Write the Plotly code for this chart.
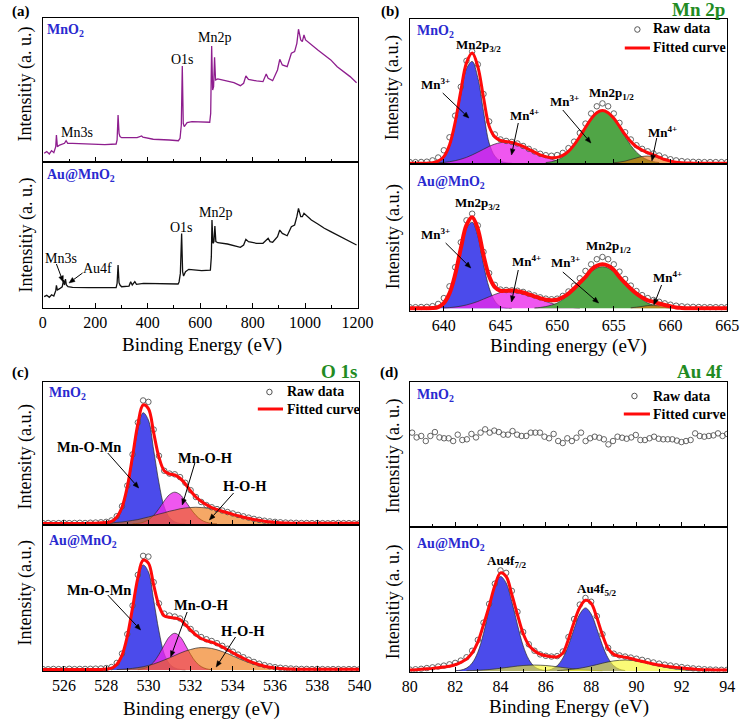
import math
import numpy as np
import plotly.graph_objects as go

W, H = 756, 721
SERIF = "Liberation Serif"

# ======================= DATA =======================
# ---- (a) XPS survey spectra ----
SURVEY_MNO2_E = [4.9, 14.8, 24.6, 33.2, 41.8, 49.2, 51.7, 55.4, 64.0, 82.5, 88.6, 94.8, 113.2, 174.8, 236.3,
                 279.4, 283.1, 286.8, 290.5, 294.2, 300.3, 359.4, 376.6, 381.5, 420.9, 482.5, 516.9, 523.1,
                 528.0, 531.7, 535.4, 539.1, 550.2, 568.6, 605.5, 636.3, 640.0, 643.7, 647.4, 651.1, 654.8,
                 658.5, 667.1, 704.0, 728.6, 753.2, 765.6, 774.2, 784.0, 814.8, 839.4, 851.7, 859.1, 876.3,
                 894.8, 903.4, 913.2, 931.7, 947.7, 960.0, 968.6, 974.8, 983.4, 989.5, 995.7, 1001.9, 1024.0,
                 1048.6, 1073.3, 1097.9, 1122.5, 1147.1, 1171.7, 1196.3]
SURVEY_MNO2_I = [0.0625, 0.074, 0.058, 0.081, 0.067, 0.109, 0.190, 0.109, 0.120, 0.132, 0.150, 0.132, 0.132,
                 0.127, 0.123, 0.127, 0.155, 0.329, 0.201, 0.178, 0.171, 0.171, 0.183, 0.174, 0.160, 0.155,
                 0.150, 0.167, 0.259, 0.669, 0.271, 0.248, 0.275, 0.282, 0.278, 0.278, 0.340, 0.808, 0.502,
                 0.525, 0.729, 0.572, 0.579, 0.565, 0.553, 0.532, 0.549, 0.600, 0.576, 0.565, 0.560, 0.613,
                 0.583, 0.567, 0.641, 0.715, 0.676, 0.664, 0.757, 0.769, 0.826, 0.924, 0.850, 0.838, 0.884,
                 0.850, 0.815, 0.780, 0.745, 0.711, 0.664, 0.630, 0.595, 0.553]
SURVEY_AU_E = [4.9, 14.8, 24.6, 33.2, 41.8, 49.2, 51.7, 55.4, 64.0, 73.8, 78.8, 82.5, 86.2, 89.8, 96.0, 113.2,
               174.8, 236.3, 279.4, 283.1, 286.8, 290.5, 294.2, 300.3, 328.6, 334.8, 340.9, 350.8, 356.9,
               384.0, 433.2, 482.5, 515.7, 519.4, 524.3, 529.2, 532.9, 536.6, 544.0, 556.3, 605.5, 638.8,
               642.5, 644.9, 648.6, 652.3, 656.0, 659.7, 667.1, 704.0, 728.6, 753.2, 765.6, 774.2, 784.0,
               814.8, 839.4, 851.7, 859.1, 866.5, 876.3, 894.8, 903.4, 913.2, 931.7, 947.7, 960.0, 968.6,
               974.8, 983.4, 989.5, 995.7, 1001.9, 1024.0, 1048.6, 1073.3, 1097.9, 1122.5, 1147.1, 1171.7,
               1196.3]
SURVEY_AU_I = [0.076, 0.085, 0.071, 0.089, 0.080, 0.117, 0.154, 0.122, 0.131, 0.144, 0.190, 0.156, 0.197,
               0.156, 0.144, 0.140, 0.138, 0.135, 0.138, 0.167, 0.294, 0.172, 0.156, 0.144, 0.149, 0.179,
               0.156, 0.179, 0.161, 0.167, 0.167, 0.163, 0.163, 0.177, 0.236, 0.511, 0.248, 0.218, 0.248,
               0.264, 0.255, 0.259, 0.351, 0.603, 0.443, 0.454, 0.562, 0.454, 0.447, 0.438, 0.429, 0.415,
               0.431, 0.470, 0.454, 0.443, 0.443, 0.466, 0.477, 0.454, 0.450, 0.489, 0.534, 0.511, 0.495,
               0.557, 0.569, 0.626, 0.683, 0.626, 0.626, 0.649, 0.638, 0.603, 0.576, 0.546, 0.523, 0.500,
               0.477, 0.454, 0.431]

# ---- (b) Mn 2p ----
MN2P_STEP = 0.5
MN2P_E = np.round(np.arange(637.0, 665.0 + 1e-9, MN2P_STEP), 3)
MN2P_RAW_MNO2 = [0.008, 0.008, 0.009, 0.011, 0.02, 0.04, 0.09, 0.18, 0.33, 0.53, 0.71, 0.775, 0.685, 0.48,
                 0.29, 0.2, 0.165, 0.155, 0.148, 0.137, 0.12, 0.10, 0.082, 0.066, 0.056, 0.052, 0.057, 0.072,
                 0.105, 0.15, 0.21, 0.275, 0.345, 0.395, 0.415, 0.395, 0.345, 0.28, 0.215, 0.165, 0.125, 0.10,
                 0.083, 0.068, 0.054, 0.04, 0.028, 0.02, 0.015, 0.012, 0.01, 0.009, 0.008, 0.008, 0.008, 0.008,
                 0.008]
MN2P_FIT_MNO2 = [0.0, 0.0, 0.0, 0.001, 0.004, 0.015, 0.046, 0.127, 0.284, 0.502, 0.696, 0.764, 0.670, 0.457,
                 0.257, 0.183, 0.158, 0.151, 0.144, 0.133, 0.117, 0.097, 0.077, 0.058, 0.046, 0.039, 0.041,
                 0.055, 0.083, 0.128, 0.185, 0.248, 0.308, 0.351, 0.366, 0.351, 0.312, 0.256, 0.198, 0.150,
                 0.114, 0.091, 0.073, 0.058, 0.042, 0.026, 0.015, 0.008, 0.004, 0.002, 0.001, 0.0, 0.0, 0.0,
                 0.0, 0.0, 0.0]
MN2P_RAW_AU = [0.008, 0.008, 0.009, 0.01, 0.015, 0.03, 0.07, 0.15, 0.28, 0.45, 0.6, 0.645, 0.565, 0.385, 0.24,
               0.16, 0.128, 0.125, 0.123, 0.12, 0.112, 0.1, 0.088, 0.075, 0.066, 0.062, 0.066, 0.085, 0.115,
               0.155, 0.205, 0.255, 0.3, 0.335, 0.35, 0.335, 0.3, 0.25, 0.2, 0.155, 0.118, 0.09, 0.07, 0.057,
               0.045, 0.034, 0.025, 0.018, 0.014, 0.011, 0.01, 0.009, 0.008, 0.008, 0.008, 0.008, 0.008]
MN2P_FIT_AU = [0.0, 0.0, 0.0, 0.001, 0.002, 0.009, 0.036, 0.102, 0.230, 0.409, 0.568, 0.621, 0.540, 0.363,
               0.219, 0.145, 0.120, 0.120, 0.121, 0.117, 0.108, 0.095, 0.082, 0.069, 0.059, 0.056, 0.059,
               0.076, 0.101, 0.135, 0.175, 0.214, 0.262, 0.290, 0.300, 0.290, 0.262, 0.214, 0.172, 0.134,
               0.100, 0.074, 0.055, 0.044, 0.033, 0.023, 0.014, 0.006, 0.003, 0.001, 0.0, 0.0, 0.0, 0.0, 0.0,
               0.0, 0.0]
# components: start energy + values at MN2P_STEP spacing
MN2P_MNO2_MN3A_START = 638.5
MN2P_MNO2_MN3A = [0.001, 0.002, 0.011, 0.040, 0.116, 0.266, 0.474, 0.655, 0.706, 0.593, 0.36, 0.14, 0.05,
                  0.015, 0.004, 0.001]
MN2P_MNO2_MN4A_START = 639.0
MN2P_MNO2_MN4A = [0.002, 0.004, 0.006, 0.011, 0.018, 0.028, 0.041, 0.058, 0.077, 0.097, 0.117, 0.133, 0.143,
                  0.147, 0.143, 0.133, 0.117, 0.097, 0.077, 0.058, 0.041, 0.028, 0.018, 0.011, 0.006, 0.004,
                  0.002]
MN2P_MNO2_MN3B_START = 649.0
MN2P_MNO2_MN3B = [0.005, 0.011, 0.023, 0.044, 0.077, 0.124, 0.183, 0.248, 0.308, 0.351, 0.366, 0.351, 0.308,
                  0.248, 0.183, 0.124, 0.077, 0.044, 0.023, 0.011, 0.005]
MN2P_MNO2_MN4B_START = 655.0
MN2P_MNO2_MN4B = [0.004, 0.008, 0.015, 0.026, 0.037, 0.047, 0.050, 0.047, 0.037, 0.026, 0.015, 0.008, 0.004]
MN2P_AU_MN3A_START = 638.5
MN2P_AU_MN3A = [0.001, 0.002, 0.009, 0.033, 0.097, 0.221, 0.394, 0.545, 0.587, 0.493, 0.30, 0.14, 0.05, 0.012,
                0.003, 0.001]
MN2P_AU_MN4A_START = 640.0
MN2P_AU_MN4A = [0.003, 0.005, 0.009, 0.015, 0.023, 0.034, 0.047, 0.063, 0.079, 0.095, 0.108, 0.117, 0.12,
                0.117, 0.108, 0.095, 0.079, 0.063, 0.047, 0.034, 0.023, 0.015, 0.009, 0.005, 0.003]
MN2P_AU_MN3B_START = 648.0
MN2P_AU_MN3B = [0.003, 0.006, 0.012, 0.022, 0.036, 0.061, 0.092, 0.130, 0.172, 0.214, 0.250, 0.275, 0.284,
                0.275, 0.250, 0.214, 0.172, 0.130, 0.092, 0.061, 0.036, 0.022, 0.012, 0.006, 0.003]
MN2P_AU_MN4B_START = 656.5
MN2P_AU_MN4B = [0.004, 0.008, 0.013, 0.019, 0.022, 0.021, 0.017, 0.011, 0.006, 0.003]

# ---- (c) O 1s ----
O1S_STEP = 0.25
O1S_E = np.round(np.arange(525.0, 540.0 + 1e-9, O1S_STEP), 3)
O1S_RAW_MNO2 = [0.006, 0.007, 0.005, 0.006, 0.008, 0.006, 0.007, 0.008, 0.007, 0.009, 0.010, 0.012, 0.015,
                0.025, 0.055, 0.125, 0.27, 0.49, 0.715, 0.87, 0.86, 0.665, 0.48, 0.375, 0.355, 0.35, 0.33,
                0.29, 0.238, 0.19, 0.155, 0.133, 0.118, 0.105, 0.095, 0.084, 0.074, 0.064, 0.054, 0.045,
                0.036, 0.029, 0.023, 0.018, 0.015, 0.012, 0.010, 0.009, 0.008, 0.007, 0.007, 0.006, 0.007,
                0.006, 0.005, 0.006, 0.007, 0.006, 0.006, 0.005, 0.006]
O1S_FIT_MNO2 = [0.004, 0.004, 0.004, 0.004, 0.004, 0.004, 0.004, 0.004, 0.004,
                0.005, 0.006, 0.008, 0.010, 0.018, 0.048, 0.118, 0.262, 0.478, 0.703, 0.838, 0.812, 0.642,
                0.47, 0.375, 0.352, 0.345, 0.322, 0.282, 0.232, 0.19, 0.16, 0.135, 0.116, 0.102, 0.09, 0.079,
                0.068, 0.058, 0.048, 0.04, 0.032, 0.026, 0.02, 0.015, 0.012, 0.009, 0.007, 0.006,
                0.005, 0.005, 0.005, 0.005, 0.005, 0.005, 0.005, 0.005, 0.005, 0.005, 0.005, 0.005, 0.005]
O1S_RAW_AU = [0.006, 0.005, 0.007, 0.006, 0.006, 0.008, 0.006, 0.007, 0.007, 0.008, 0.009, 0.010,
              0.013, 0.02, 0.048, 0.112, 0.245, 0.44, 0.65, 0.78, 0.775, 0.6, 0.455, 0.385, 0.372, 0.365,
              0.352, 0.318, 0.28, 0.25, 0.225, 0.21, 0.198, 0.183, 0.165, 0.145, 0.125, 0.105, 0.087, 0.07,
              0.055, 0.043, 0.033, 0.025, 0.019, 0.015, 0.012, 0.010,
              0.008, 0.007, 0.007, 0.006, 0.007, 0.006, 0.005, 0.006, 0.006, 0.005, 0.006, 0.006, 0.005]
O1S_FIT_AU = [0.004, 0.004, 0.004, 0.004, 0.004, 0.004, 0.004, 0.004, 0.004, 0.004, 0.004, 0.004,
              0.006, 0.012, 0.038, 0.10, 0.23, 0.425, 0.63, 0.75, 0.73, 0.58, 0.44, 0.37, 0.36, 0.355, 0.345,
              0.31, 0.272, 0.24, 0.215, 0.2, 0.19, 0.175, 0.158, 0.138, 0.118, 0.098, 0.08, 0.063, 0.048,
              0.036, 0.026, 0.019, 0.014, 0.010, 0.008, 0.006,
              0.005, 0.005, 0.005, 0.005, 0.005, 0.005, 0.005, 0.005, 0.005, 0.005, 0.005, 0.005, 0.005]
O1S_MNO2_MNOMN_START = 527.75
O1S_MNO2_MNOMN = [0.001, 0.002, 0.009, 0.035, 0.102, 0.241, 0.451, 0.667, 0.784, 0.732, 0.52, 0.29, 0.12,
                  0.045, 0.015, 0.004, 0.001]
O1S_MNO2_MNOH_START = 529.25
O1S_MNO2_MNOH = [0.001, 0.004, 0.012, 0.029, 0.061, 0.108, 0.162, 0.207, 0.224, 0.207, 0.162, 0.108, 0.061,
                 0.029, 0.012, 0.004, 0.001]
O1S_MNO2_HOH_START = 527.25
O1S_MNO2_HOH = [0.001, 0.002, 0.004, 0.005, 0.007, 0.011, 0.014, 0.019, 0.025, 0.031, 0.040, 0.049, 0.059,
                0.070, 0.079, 0.090, 0.098, 0.107, 0.113, 0.116, 0.118, 0.116, 0.113, 0.107, 0.098, 0.090,
                0.079, 0.070, 0.059, 0.049, 0.040, 0.031, 0.025, 0.019, 0.014, 0.011, 0.007, 0.005, 0.004,
                0.002, 0.001]
O1S_AU_MNOMN_START = 527.75
O1S_AU_MNOMN = [0.001, 0.002, 0.008, 0.032, 0.093, 0.221, 0.413, 0.611, 0.718, 0.671, 0.476, 0.266, 0.11,
                0.041, 0.014, 0.004, 0.001]
O1S_AU_MNOH_START = 529.5
O1S_AU_MNOH = [0.002, 0.008, 0.023, 0.054, 0.106, 0.171, 0.228, 0.251, 0.228, 0.171, 0.106, 0.054, 0.023,
               0.008, 0.002]
O1S_AU_HOH_START = 528.5
O1S_AU_HOH = [0.003, 0.0045, 0.007, 0.011, 0.016, 0.022, 0.031, 0.041, 0.054, 0.068, 0.083, 0.099, 0.115,
              0.129, 0.140, 0.149, 0.153, 0.152, 0.147, 0.138, 0.126, 0.112, 0.096, 0.080, 0.065, 0.051,
              0.039, 0.029, 0.021, 0.014, 0.010, 0.006, 0.004, 0.003, 0.002]

# ---- (d) Au 4f ----
AU4F_RAW_MNO2_E = np.linspace(80.1, 94.0, 70)
AU4F_RAW_MNO2 = [0.650, 0.617, 0.627, 0.592, 0.627, 0.654, 0.617, 0.611, 0.611, 0.592, 0.636, 0.599, 0.604,
                 0.641, 0.617, 0.650, 0.673, 0.650, 0.664, 0.654, 0.636, 0.636, 0.661, 0.636, 0.627, 0.627,
                 0.650, 0.650, 0.650, 0.622, 0.611, 0.641, 0.592, 0.578, 0.611, 0.592, 0.615, 0.650, 0.592,
                 0.611, 0.622, 0.615, 0.604, 0.569, 0.592, 0.622, 0.615, 0.608, 0.617, 0.634, 0.599, 0.599,
                 0.611, 0.622, 0.608, 0.604, 0.604, 0.604, 0.595, 0.585, 0.592, 0.599, 0.645, 0.627, 0.622,
                 0.627, 0.631, 0.645, 0.627, 0.641]
AU4F_STEP = 0.25
AU4F_E = np.round(np.arange(80.0, 94.0 + 1e-9, AU4F_STEP), 3)
AU4F_RAW_AU = [0.010, 0.012, 0.015, 0.020, 0.025, 0.031, 0.037, 0.046, 0.056, 0.072, 0.095, 0.14, 0.215,
               0.335, 0.465, 0.605, 0.697, 0.68, 0.555, 0.41, 0.27, 0.185, 0.14, 0.115, 0.105, 0.10, 0.103,
               0.135, 0.235, 0.36, 0.46, 0.506, 0.48, 0.38, 0.255, 0.16, 0.12, 0.108, 0.10, 0.093, 0.085,
               0.077, 0.068, 0.059, 0.051, 0.044, 0.038, 0.032, 0.027, 0.022, 0.018, 0.015, 0.012, 0.010,
               0.009, 0.008, 0.008]
AU4F_FIT_AU = [0.007, 0.009, 0.012, 0.015, 0.018, 0.022, 0.027, 0.033, 0.043, 0.060, 0.082, 0.125, 0.20,
               0.32, 0.45, 0.59, 0.68, 0.655, 0.53, 0.39, 0.26, 0.18, 0.14, 0.117, 0.105, 0.099, 0.098, 0.124,
               0.22, 0.34, 0.44, 0.49, 0.47, 0.37, 0.25, 0.155, 0.115, 0.102, 0.095, 0.086, 0.076, 0.067,
               0.058, 0.048, 0.041, 0.035, 0.030, 0.025, 0.021, 0.017, 0.014, 0.011, 0.009, 0.008, 0.007,
               0.007, 0.007]
AU4F_72_START = 82.0
AU4F_72 = [0.002, 0.006, 0.02, 0.055, 0.13, 0.26, 0.43, 0.585, 0.655, 0.61, 0.48, 0.32, 0.175, 0.08, 0.03,
           0.01, 0.003]
AU4F_52_START = 86.0
AU4F_52 = [0.003, 0.012, 0.036, 0.089, 0.178, 0.293, 0.395, 0.437, 0.395, 0.293, 0.178, 0.089, 0.036, 0.012,
           0.003]
AU4F_SAT1_START = 82.5
AU4F_SAT1 = [0.002, 0.003, 0.005, 0.007, 0.010, 0.014, 0.019, 0.024, 0.029, 0.034, 0.038, 0.040, 0.041, 0.040,
             0.038, 0.034, 0.029, 0.024, 0.019, 0.014, 0.010, 0.007, 0.005, 0.003, 0.002]
AU4F_SAT2_START = 86.5
AU4F_SAT2 = [0.003, 0.005, 0.009, 0.013, 0.019, 0.026, 0.035, 0.044, 0.054, 0.063, 0.070, 0.074, 0.076, 0.074,
             0.070, 0.063, 0.054, 0.044, 0.035, 0.026, 0.019, 0.013, 0.009, 0.005, 0.003, 0.002]

# ======================= STYLE =======================
BLUE_FILL = "#4B4BEB"
MAG_FILL = "rgba(235,40,235,0.78)"
GREEN_FILL = "#50A546"
ORANGE_FILL = "rgba(238,110,0,0.6)"
YELLOW_FILL = "rgba(247,247,40,0.63)"
OUTLINE = dict(color="#2a2a2a", width=0.7)
RED = "#FF0A0A"
LABEL_BLUE = "#2A2AD0"
TITLE_GREEN = "#228B22"

fig = go.Figure()


def comp_x(start, vals, step):
    return [start + step * i for i in range(len(vals))]


def add_comp(start, vals, step, fill, ax):
    fig.add_trace(go.Scatter(x=comp_x(start, vals, step), y=vals, mode="lines", line=OUTLINE,
                             line_shape="spline", fill="tozeroy", fillcolor=fill,
                             xaxis="x" + ax, yaxis="y" + ax, hoverinfo="skip"))


def add_raw(x, y, ax):
    fig.add_trace(go.Scatter(x=x, y=y, mode="markers",
                             marker=dict(symbol="circle-open", size=5.5, color="#555555",
                                         line=dict(width=0.9)),
                             xaxis="x" + ax, yaxis="y" + ax))


def add_fit(x, y, ax, width=3):
    fig.add_trace(go.Scatter(x=x, y=y, mode="lines", line=dict(color=RED, width=width),
                             line_shape="spline", xaxis="x" + ax, yaxis="y" + ax))


# (a)
fig.add_trace(go.Scatter(x=SURVEY_MNO2_E, y=SURVEY_MNO2_I, mode="lines",
                         line=dict(color="#8E1E8E", width=1.3), xaxis="x", yaxis="y"))
fig.add_trace(go.Scatter(x=SURVEY_AU_E, y=SURVEY_AU_I, mode="lines",
                         line=dict(color="#111111", width=1.3), xaxis="x2", yaxis="y2"))

# (b)
add_comp(MN2P_MNO2_MN3A_START, MN2P_MNO2_MN3A, MN2P_STEP, BLUE_FILL, "3")
add_comp(MN2P_MNO2_MN4A_START, MN2P_MNO2_MN4A, MN2P_STEP, MAG_FILL, "3")
add_comp(MN2P_MNO2_MN3B_START, MN2P_MNO2_MN3B, MN2P_STEP, GREEN_FILL, "3")
add_comp(MN2P_MNO2_MN4B_START, MN2P_MNO2_MN4B, MN2P_STEP, ORANGE_FILL, "3")
add_raw(MN2P_E, MN2P_RAW_MNO2, "3")
add_fit(MN2P_E, MN2P_FIT_MNO2, "3", 3)
add_comp(MN2P_AU_MN3A_START, MN2P_AU_MN3A, MN2P_STEP, BLUE_FILL, "4")
add_comp(MN2P_AU_MN4A_START, MN2P_AU_MN4A, MN2P_STEP, MAG_FILL, "4")
add_comp(MN2P_AU_MN3B_START, MN2P_AU_MN3B, MN2P_STEP, GREEN_FILL, "4")
add_comp(MN2P_AU_MN4B_START, MN2P_AU_MN4B, MN2P_STEP, ORANGE_FILL, "4")
add_raw(MN2P_E, MN2P_RAW_AU, "4")
add_fit(MN2P_E, MN2P_FIT_AU, "4", 4)

# (c)
add_comp(O1S_MNO2_MNOMN_START, O1S_MNO2_MNOMN, O1S_STEP, BLUE_FILL, "5")
add_comp(O1S_MNO2_MNOH_START, O1S_MNO2_MNOH, O1S_STEP, MAG_FILL, "5")
add_comp(O1S_MNO2_HOH_START, O1S_MNO2_HOH, O1S_STEP, ORANGE_FILL, "5")
add_raw(O1S_E, O1S_RAW_MNO2, "5")
add_fit(O1S_E, O1S_FIT_MNO2, "5", 3)
add_comp(O1S_AU_MNOMN_START, O1S_AU_MNOMN, O1S_STEP, BLUE_FILL, "6")
add_comp(O1S_AU_MNOH_START, O1S_AU_MNOH, O1S_STEP, MAG_FILL, "6")
add_comp(O1S_AU_HOH_START, O1S_AU_HOH, O1S_STEP, ORANGE_FILL, "6")
add_raw(O1S_E, O1S_RAW_AU, "6")
add_fit(O1S_E, O1S_FIT_AU, "6", 3)

# (d)
add_raw(AU4F_RAW_MNO2_E, AU4F_RAW_MNO2, "7")
add_comp(AU4F_72_START, AU4F_72, AU4F_STEP, BLUE_FILL, "8")
add_comp(AU4F_52_START, AU4F_52, AU4F_STEP, BLUE_FILL, "8")
add_comp(AU4F_SAT1_START, AU4F_SAT1, AU4F_STEP, YELLOW_FILL, "8")
add_comp(AU4F_SAT2_START, AU4F_SAT2, AU4F_STEP, YELLOW_FILL, "8")
add_raw(AU4F_E, AU4F_RAW_AU, "8")
add_fit(AU4F_E, AU4F_FIT_AU, "8", 3)

# ======================= LAYOUT =======================
DOMS = {
    1: ((36, 361), (18.3, 162.3)), 2: ((36, 361), (162.3, 307.7)),
    3: ((415, 742.7), (19, 164)), 4: ((415, 742.7), (164, 310.7)),
    5: ((36, 363), (382, 524.7)), 6: ((36, 363), (524.7, 671)),
    7: ((415, 742.7), (382, 526.7)), 8: ((415, 742.7), (526.7, 671.7)),
}
XR = {1: [0, 1200], 2: [0, 1200], 3: [637, 665], 4: [637, 665], 5: [525, 540], 6: [525, 540],
      7: [80, 94], 8: [80, 94]}
XT = {1: (200, 0, 100), 2: (200, 0, 100), 3: (5, 640, 2.5), 4: (5, 640, 2.5), 5: (2, 526, 1),
      6: (2, 526, 1), 7: (2, 80, 1), 8: (2, 80, 1)}
YR = {1: [0, 1], 2: [0, 1], 3: [-0.005, 1.0], 4: [-0.016, 0.984], 5: [-0.005, 1.0], 6: [-0.007, 0.993],
      7: [0, 1], 8: [-0.005, 1.0]}

layout = dict(width=W, height=H, margin=dict(l=0, r=0, t=0, b=0), paper_bgcolor="white",
              plot_bgcolor="white", showlegend=False)
for i in range(1, 9):
    (x0, x1), (y0, y1) = DOMS[i]
    sfx = "" if i == 1 else str(i)
    dt, t0, mdt = XT[i]
    layout["xaxis" + sfx] = dict(
        domain=[x0 / W, x1 / W], range=XR[i], anchor="y" + sfx, showline=True, linecolor="black",
        linewidth=1.4, mirror=True, ticks="inside", ticklen=5, tickwidth=1.2, tickcolor="black",
        dtick=dt, tick0=t0, minor=dict(dtick=mdt, ticks="inside", ticklen=3, tickwidth=1, tickcolor="black"),
        showticklabels=(i % 2 == 0), tickfont=dict(family=SERIF, size=16, color="black"),
        showgrid=False, zeroline=False)
    layout["yaxis" + sfx] = dict(
        domain=[1 - y1 / H, 1 - y0 / H], range=YR[i], anchor="x" + sfx, showline=True,
        linecolor="black", linewidth=1.4, mirror=True, ticks="", showticklabels=False,
        showgrid=False, zeroline=False)

anns = []
shapes = []


def T(text, x, y, size, color="black", xanchor="center", angle=0):
    anns.append(dict(text=text, x=x / W, y=1 - y / H, xref="paper", yref="paper", showarrow=False,
                     xanchor=xanchor, yanchor="middle", textangle=angle,
                     font=dict(family=SERIF, size=size, color=color)))


def ARROW(tail, head, L=6.0, half=2.4):
    dx, dy = head[0] - tail[0], head[1] - tail[1]
    n = math.hypot(dx, dy)
    ux, uy = dx / n, dy / n
    bx, by = head[0] - L * ux, head[1] - L * uy
    px_, py_ = -uy, ux
    shapes.append(dict(type="line", xref="paper", yref="paper", x0=tail[0] / W, y0=1 - tail[1] / H,
                       x1=bx / W, y1=1 - by / H, line=dict(color="black", width=1)))
    pts = [(head[0], head[1]), (bx + half * px_, by + half * py_), (bx - half * px_, by - half * py_)]
    path = "M " + " L ".join("%.5f,%.5f" % (p[0] / W, 1 - p[1] / H) for p in pts) + " Z"
    shapes.append(dict(type="path", xref="paper", yref="paper", path=path, fillcolor="black",
                       line=dict(color="black", width=0.5)))


def LEGEND(cx, cy, lx0, lx1, ly, tx, ty1, ty2):
    r = 2.8
    shapes.append(dict(type="circle", xref="paper", yref="paper", x0=(cx - r) / W, x1=(cx + r) / W,
                       y0=1 - (cy + r) / H, y1=1 - (cy - r) / H, line=dict(color="#555555", width=1)))
    shapes.append(dict(type="line", xref="paper", yref="paper", x0=lx0 / W, x1=lx1 / W,
                       y0=1 - ly / H, y1=1 - ly / H, line=dict(color=RED, width=3)))
    T("<b>Raw data</b>", tx, ty1, 14, xanchor="left")
    T("<b>Fitted curve</b>", tx, ty2, 14, xanchor="left")


# panel letters and titles
T("<b>(a)</b>", 13, 12, 15)
T("<b>(b)</b>", 395, 12, 15)
T("<b>(c)</b>", 13, 372, 15)
T("<b>(d)</b>", 393, 372, 15)
T("<b>Mn 2p</b>", 743, 10, 19, TITLE_GREEN, xanchor="right")
T("<b>O 1s</b>", 362, 371, 19, TITLE_GREEN, xanchor="right")
T("<b>Au 4f</b>", 741, 371, 19, TITLE_GREEN, xanchor="right")

# axis titles
T("Binding Energy (eV)", 200, 345, 19)
T("Binding energy (eV)", 579, 346, 19)
T("Binding energy (eV)", 200, 709, 19)
T("Binding Energy (eV)", 579, 707, 19)
T("Intensitiy (a. u.)", 19, 84, 18, angle=-90)
T("Intensitiy (a. u.)", 19, 235, 18, angle=-90)
T("Intensity (a.u.)", 398, 88, 18, angle=-90)
T("Intensity (a.u.)", 398, 237, 18, angle=-90)
T("Intensity (a.u.)", 18, 457, 18, angle=-90)
T("Intensity (a.u.)", 18, 593, 18, angle=-90)
T("Intensitiy (a. u.)", 398, 456, 18, angle=-90)
T("Intensitiy (a. u.)", 398, 602, 18, angle=-90)

# sample labels
for (x, y, t) in [(38, 31, "MnO<sub>2</sub>"), (38, 175, "Au@MnO<sub>2</sub>"),
                  (420, 32, "MnO<sub>2</sub>"), (420, 182, "Au@MnO<sub>2</sub>"),
                  (40, 393, "MnO<sub>2</sub>"), (40, 541, "Au@MnO<sub>2</sub>"),
                  (420, 395, "MnO<sub>2</sub>"), (420, 544, "Au@MnO<sub>2</sub>")]:
    T("<b>" + t + "</b>", x, y, 14, LABEL_BLUE, xanchor="left")

# (a) peak labels
T("Mn3s", 71, 132, 14)
T("O1s", 180, 60, 14)
T("Mn2p", 213, 38, 14)
T("Mn3s", 55, 258, 14)
T("Au4f", 92, 268, 14)
T("O1s", 179, 227, 14)
T("Mn2p", 214, 213, 14)
ARROW((50, 264), (57, 282))
ARROW((77, 273), (63, 283))

# (b) labels
T("<b>Mn2p<sub>3/2</sub></b>", 486, 46, 13)
T("<b>Mn<sup>3+</sup></b>", 442, 84, 13)
T("<b>Mn<sup>4+</sup></b>", 533, 115, 13)
T("<b>Mn<sup>3+</sup></b>", 575, 101, 13)
T("<b>Mn2p<sub>1/2</sub></b>", 623, 94, 13)
T("<b>Mn<sup>4+</sup></b>", 676, 132, 13)
ARROW((449, 93), (476, 118))
ARROW((527, 123), (520, 155))
ARROW((573, 110), (602, 143))
ARROW((670, 138), (665, 161))
T("<b>Mn2p<sub>3/2</sub></b>", 485, 203, 13)
T("<b>Mn<sup>3+</sup></b>", 442, 234, 13)
T("<b>Mn<sup>4+</sup></b>", 535, 261, 13)
T("<b>Mn<sup>3+</sup></b>", 576, 262, 13)
T("<b>Mn2p<sub>1/2</sub></b>", 620, 246, 13)
T("<b>Mn<sup>4+</sup></b>", 681, 277, 13)
ARROW((452, 243), (478, 268))
ARROW((527, 270), (520, 302))
ARROW((573, 272), (610, 303))
ARROW((675, 285), (667, 305))
LEGEND(650, 29.5, 637, 663, 48, 664, 29, 47.5)

# (c) labels
T("<b>Mn-O-Mn</b>", 84, 447, 14.5)
T("<b>Mn-O-H</b>", 204, 458, 14.5)
T("<b>H-O-H</b>", 245, 486, 14.5)
ARROW((103, 453), (135, 488))
ARROW((193, 463), (180, 505))
ARROW((233, 493), (208, 520))
T("<b>Mn-O-Mn</b>", 94, 590, 14.5)
T("<b>Mn-O-H</b>", 200, 605, 14.5)
T("<b>H-O-H</b>", 243, 631, 14.5)
ARROW((103, 595), (137, 630))
ARROW((185, 612), (168, 657))
ARROW((235, 637), (215, 667))
LEGEND(270, 392, 258, 284, 409, 286, 391, 409)

# (d) labels
T("<b>Au4f<sub>7/2</sub></b>", 515, 561, 13)
T("<b>Au4f<sub>5/2</sub></b>", 608, 589, 13)
LEGEND(647, 396, 636, 663, 414, 664, 396, 414)

layout["annotations"] = anns
layout["shapes"] = shapes
fig.update_layout(**layout)
fig.write_html("out.html", config={"displayModeBar": False},
               post_script="document.body.style.margin='0px';document.body.style.overflow='hidden';")
